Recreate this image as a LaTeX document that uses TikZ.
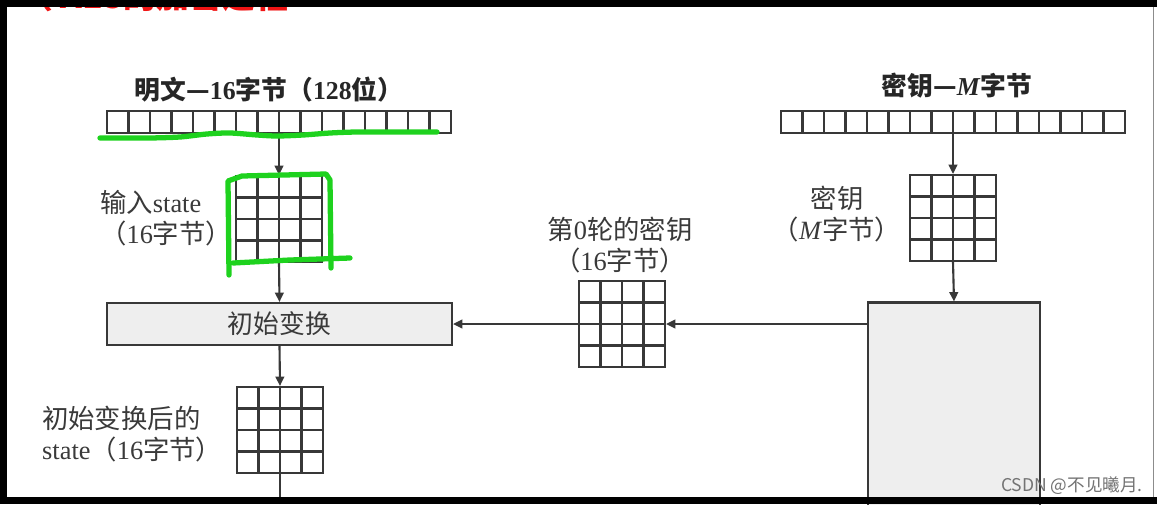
\documentclass[tikz,border=0pt]{standalone}
\usepackage{fontspec}
\setmainfont{Liberation Serif}
\newfontfamily\cjk{Noto Sans CJK SC}
\usetikzlibrary{arrows.meta,calc}
\newcommand\zh[1]{{\cjk #1}}
\definecolor{linegray}{HTML}{383838}
\definecolor{labelgray}{HTML}{3A3A3A}
\definecolor{boxgray}{HTML}{EEEEEE}
\definecolor{markgreen}{HTML}{1ED21E}
\definecolor{titlered}{HTML}{F01414}
\begin{document}
\begin{tikzpicture}[x=0.03cm, y=-0.03cm,
  ln/.style={draw=linegray, line width=1.8pt},
  flow/.style={ln, -{Triangle[length=2.8mm, width=2.6mm]}},
  grid4/.style={ln, fill=white, inner sep=0pt, minimum width=2.58cm, minimum height=2.58cm,
    path picture={\foreach \k in {1,2,3} {
      \draw[ln] ($(path picture bounding box.north west)!\k/4!(path picture bounding box.north east)$)
        -- ($(path picture bounding box.south west)!\k/4!(path picture bounding box.south east)$);
      \draw[ln] ($(path picture bounding box.north west)!\k/4!(path picture bounding box.south west)$)
        -- ($(path picture bounding box.north east)!\k/4!(path picture bounding box.south east)$);}}},
  row16/.style={ln, fill=white, inner sep=0pt, minimum width=10.32cm, minimum height=0.66cm,
    path picture={\foreach \k in {1,...,15}
      \draw[ln] ($(path picture bounding box.north west)!\k/16!(path picture bounding box.north east)$)
        -- ($(path picture bounding box.south west)!\k/16!(path picture bounding box.south east)$);}},
  head/.style={font=\fontsize{22}{26}\selectfont\bfseries, text=black!85, inner sep=0pt},
  lbl/.style={font=\fontsize{22.5}{26}\selectfont, text=labelgray, inner sep=0pt},
  stage/.style={ln, fill=boxgray, inner sep=0pt},
  hand/.style={draw=markgreen, line width=4.5pt, line cap=round, line join=round}]
  \useasboundingbox (0,0) rectangle (1157,504);
  \clip (0,0) rectangle (1157,504);
  \fill[white] (0,0) rectangle (1157,504);
  % 被截掉的红色标题
  \node[font=\fontsize{28}{30}\selectfont\bfseries\cjk, text=titlered, anchor=base west, inner sep=0pt]
    (cut) at (20,8) {（ AES的加密过程};
  % 明文一侧
  \node[head] (pttitle) at (269,90) {\zh{明文—}16\zh{字节（}128\zh{位）}};
  \node[row16] (ptbar) at (279,122) {};
  \node[grid4] (instate) at (279,219) {};
  \node[lbl, anchor=west, align=left] (inlabel) at (100,218) {\zh{输入}state\\\zh{（}16\zh{字节）}};
  \node[stage, minimum width=10.35cm, minimum height=1.26cm, font=\fontsize{22}{26}\selectfont\cjk, text=labelgray]
    (initbox) at (279.5,324) {初始变换};
  \node[grid4] (outstate) at (280,430) {};
  \node[lbl, anchor=west, align=left] (outlabel) at (42,434) {\zh{初始变换后的}\\state\zh{（}16\zh{字节）}};
  \coordinate (outend) at (280,504);
  % 密钥一侧
  \node[head] (keytitle) at (957,86) {\zh{密钥—}\textit{M}\zh{字节}};
  \node[row16] (keybar) at (953,122) {};
  \node[grid4] (keygrid) at (953,218) {};
  \node[lbl, align=center] (keylabel) at (837,214) {\zh{密钥}\\\zh{（}\textit{M}\zh{字节）}};
  \node[stage, minimum width=5.16cm, minimum height=7.71cm] (keybox) at (954,431) {};
  \node[grid4] (rk0) at (622,324) {};
  \node[lbl, align=center] (rk0label) at (620,245) {\zh{第}0\zh{轮的密钥}\\\zh{（}16\zh{字节）}};
  % 连线
  \draw[flow] (ptbar.south) -- (instate.north);
  \draw[flow] (instate.south) -- (initbox.north);
  \draw[flow] (initbox.south) -- (outstate.north);
  \draw[ln] (outstate.south) -- (outend);
  \draw[flow] (keybar.south) -- (keygrid.north);
  \draw[flow] (keygrid.south) -- (keybox.north);
  \draw[flow] (keybox.west |- rk0.east) -- (rk0.east);
  \draw[flow] (rk0.west) -- (initbox.east);
  % 绿色手写标记
  \draw[hand] plot[smooth] coordinates {(100,138) (130,138) (150,138) (180,137) (207,134) (230,133)
    (257,135) (277,136) (303,135) (330,133) (357,132) (400,132) (437,132)};
  \draw[hand] (229,275) -- (228,181) -- (242,176) -- (326,174) -- (330,180) -- (331,268);
  \draw[hand] (233,263) -- (290,260) -- (350,258);
  % 水印
  \node[font=\fontsize{15}{17}\selectfont\cjk, text=black!55, anchor=east, inner sep=0pt]
    (mark) at (1143,486) {CSDN @不见曦月.};
  % 黑边
  \fill[black] (0,0) rectangle (1157,7);
  \fill[black] (0,0) rectangle (7,504);
  \fill[black] (0,497) rectangle (1157,504);
  \draw[black!45, line width=0.8pt] (1153,7) -- (1153,497);
\end{tikzpicture}
\end{document}
